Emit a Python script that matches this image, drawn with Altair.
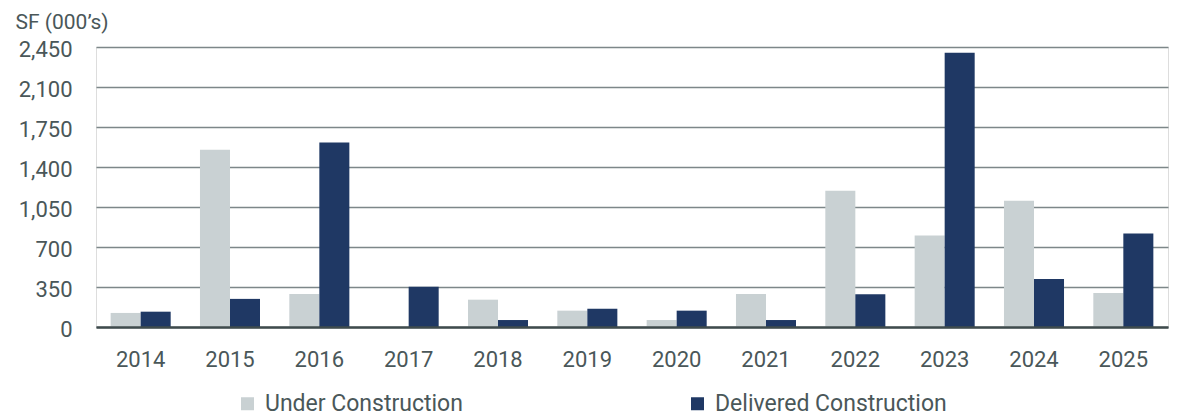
import altair as alt
import pandas as pd

years = ["2014", "2015", "2016", "2017", "2018", "2019", "2020", "2021", "2022", "2023", "2024", "2025"]
under_construction = [123, 1552, 289, 0, 239, 143, 61, 289, 1193, 801, 1105, 298]
delivered_construction = [134, 246, 1614, 353, 61, 160, 143, 61, 287, 2400, 421, 818]
series_names = ["Under Construction", "Delivered Construction"]
series_colors = ["#c9d1d3", "#1f3864"]
y_ticks = [0, 350, 700, 1050, 1400, 1750, 2100, 2450]

rows = []
for i, yr in enumerate(years):
    rows.append({"year": yr, "series": series_names[0], "value": under_construction[i]})
    rows.append({"year": yr, "series": series_names[1], "value": delivered_construction[i]})
df = pd.DataFrame(rows)

TEXT = "#4a5759"
FONT = "Roboto"

chart = alt.Chart(df).mark_bar().encode(
    x=alt.X("year:N", sort=years,
            scale=alt.Scale(paddingInner=0.328, paddingOuter=0.164),
            axis=alt.Axis(title=None, labelAngle=0, ticks=False, tickSize=0,
                          labelPadding=22, labelFontSize=22, labelColor=TEXT,
                          labelFont=FONT, domainColor="#3f4b4d", domainWidth=2.5,
                          grid=False, zindex=1)),
    xOffset=alt.XOffset("series:N", sort=series_names, scale=alt.Scale(paddingInner=0, paddingOuter=0)),
    y=alt.Y("value:Q", scale=alt.Scale(domain=[0, 2450], nice=False),
            axis=alt.Axis(values=y_ticks, format=",.0f", title="SF (000\u2019s)",
                          titleAngle=0, titleAlign="left", titleBaseline="alphabetic",
                          titleX=-81, titleY=-19, titleFontSize=21, titleFontWeight="normal",
                          titleColor=TEXT, titleFont=FONT,
                          labelFontSize=22, labelColor=TEXT, labelFont=FONT,
                          labelPadding=24, labelOffset=2, ticks=False, tickSize=0,
                          domain=False, grid=True, gridColor="#7d8789", gridWidth=1.3)),
    color=alt.Color("series:N", sort=series_names,
                    scale=alt.Scale(domain=series_names, range=series_colors),
                    legend=alt.Legend(title=None, orient="none", direction="horizontal",
                                      legendX=140, legendY=345, padding=0,
                                      symbolType="square", symbolSize=169,
                                      symbolStrokeWidth=0, labelOffset=6,
                                      labelFontSize=23, labelColor=TEXT, labelFont=FONT,
                                      labelLimit=500, columnPadding=223)),
).properties(
    width=1072,
    height=280,
    autosize=alt.AutoSizeParams(type="none"),
    padding={"left": 88, "top": 39, "right": 4, "bottom": 92},
).configure_view(stroke=None).configure(font=FONT)

chart.save("out.html", embed_options={"renderer": "svg", "actions": False})
